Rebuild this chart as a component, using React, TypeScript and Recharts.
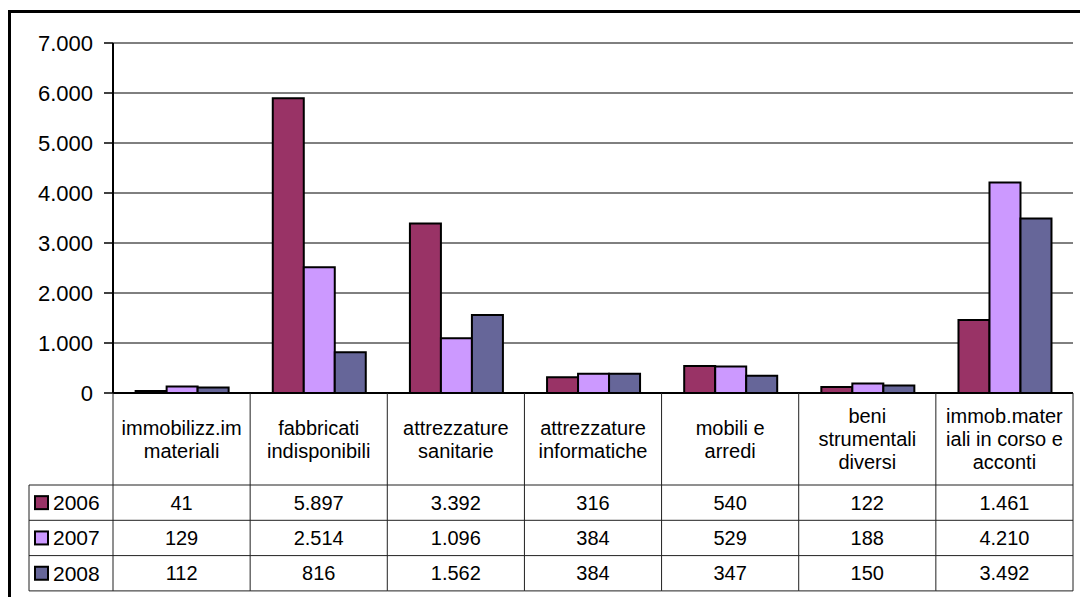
import React from 'react';
import { BarChart, Bar, XAxis, YAxis, CartesianGrid } from 'recharts';

const categories: string[] = [
  'immobilizz.im\nmateriali',
  'fabbricati\nindisponibili',
  'attrezzature\nsanitarie',
  'attrezzature\ninformatiche',
  'mobili e\narredi',
  'beni\nstrumentali\ndiversi',
  'immob.mater\niali in corso e\nacconti',
];
const seriesNames: string[] = ['2006', '2007', '2008'];
const values2006: number[] = [41, 5897, 3392, 316, 540, 122, 1461];
const values2007: number[] = [129, 2514, 1096, 384, 529, 188, 4210];
const values2008: number[] = [112, 816, 1562, 384, 347, 150, 3492];
const yTicks: number[] = [0, 1000, 2000, 3000, 4000, 5000, 6000, 7000];
const colors: string[] = ['#993366', '#CC99FF', '#666699'];

const seriesValues = [values2006, values2007, values2008];
const data = categories.map((c, i) => ({
  name: c,
  s2006: values2006[i],
  s2007: values2007[i],
  s2008: values2008[i],
}));

const fmt = (n: number) => String(n).replace(/\B(?=(\d{3})+(?!\d))/g, '.');

const FONT = '"Liberation Sans", Arial, sans-serif';
const HEADER_H = 92;
const ROW_H = 35.3;
const LINE_H = 23;
const TABLE_FS = 20;
const LEGEND_LEFT = 29;
const LINE_COLOR = '#202020';

const TableTick = (props: any) => {
  const { x, y, payload, index } = props;
  const idx: number = payload?.index ?? index;
  const half: number = payload?.offset ?? 68.57;
  const left = x - half;
  const right = x + half;
  const top = y;
  const headerBottom = top + HEADER_H;
  const bottom = headerBottom + ROW_H * 3;
  const lines = categories[idx].split('\n');
  const headerCenter = top + HEADER_H / 2;
  const firstLineY = headerCenter - ((lines.length - 1) * LINE_H) / 2;
  const isFirst = idx === 0;
  return (
    <g>
      {lines.map((ln, k) => (
        <text
          key={'h' + k}
          x={x}
          y={firstLineY + k * LINE_H}
          textAnchor="middle"
          dominantBaseline="central"
          fontSize={TABLE_FS}
          fontFamily={FONT}
          fill="#000"
        >
          {ln}
        </text>
      ))}
      {seriesValues.map((vals, s) => (
        <text
          key={'v' + s}
          x={x}
          y={headerBottom + ROW_H * s + ROW_H / 2}
          textAnchor="middle"
          dominantBaseline="central"
          fontSize={TABLE_FS}
          fontFamily={FONT}
          fill="#000"
        >
          {fmt(vals[idx])}
        </text>
      ))}
      {isFirst && <line x1={left} x2={left} y1={top} y2={bottom} stroke={LINE_COLOR} strokeWidth={1} />}
      <line x1={right} x2={right} y1={top} y2={bottom} stroke={LINE_COLOR} strokeWidth={1} />
      {[0, 1, 2, 3].map((r) => (
        <line
          key={'r' + r}
          x1={isFirst ? LEGEND_LEFT : left}
          x2={right}
          y1={headerBottom + ROW_H * r}
          y2={headerBottom + ROW_H * r}
          stroke={LINE_COLOR}
          strokeWidth={1}
        />
      ))}
      {isFirst && (
        <g>
          <line x1={LEGEND_LEFT} x2={LEGEND_LEFT} y1={headerBottom} y2={bottom} stroke={LINE_COLOR} strokeWidth={1} />
          {seriesNames.map((nm, s) => {
            const cy = headerBottom + ROW_H * s + ROW_H / 2;
            return (
              <g key={'l' + s}>
                <rect x={35} y={cy - 6.5} width={13} height={13} fill={colors[s]} stroke="#000" strokeWidth={2} />
                <text
                  x={53}
                  y={cy}
                  dominantBaseline="central"
                  fontSize={TABLE_FS + 1}
                  fontFamily={FONT}
                  fill="#000"
                >
                  {nm}
                </text>
              </g>
            );
          })}
        </g>
      )}
    </g>
  );
};

export default function App() {
  return (
    <div style={{ position: 'absolute', left: 0, top: 0, width: 1080, height: 597, overflow: 'hidden', background: '#fff', fontFamily: FONT }}>
      <div
        style={{
          position: 'absolute',
          left: 8,
          top: 10,
          width: 1200,
          height: 700,
          borderTop: '3px solid #000',
          borderLeft: '3px solid #000',
        }}
      />
      <div style={{ position: 'absolute', left: 0, top: 0 }}>
        <BarChart
          width={1080}
          height={597}
          data={data}
          margin={{ top: 43, right: 7, bottom: 0, left: 0 }}
          barGap={0}
          barCategoryGap="16.5%"
        >
          <CartesianGrid vertical={false} stroke="#000" strokeWidth={1} />
          <YAxis
            width={113}
            domain={[0, 7000]}
            ticks={yTicks}
            interval={0}
            tickFormatter={fmt}
            tick={{ fill: '#000', fontSize: 22, fontFamily: FONT }}
            tickSize={9}
            tickMargin={11}
            axisLine={{ stroke: '#000', strokeWidth: 2 }}
            tickLine={{ stroke: '#000', strokeWidth: 1.5 }}
          />
          <XAxis
            dataKey="name"
            height={204}
            interval={0}
            tickSize={0}
            tickMargin={0}
            tickLine={false}
            axisLine={{ stroke: '#000', strokeWidth: 2 }}
            tick={<TableTick />}
          />
          <Bar dataKey="s2006" name={seriesNames[0]} fill={colors[0]} stroke="#000" strokeWidth={2} isAnimationActive={false} />
          <Bar dataKey="s2007" name={seriesNames[1]} fill={colors[1]} stroke="#000" strokeWidth={2} isAnimationActive={false} />
          <Bar dataKey="s2008" name={seriesNames[2]} fill={colors[2]} stroke="#000" strokeWidth={2} isAnimationActive={false} />
        </BarChart>
      </div>
    </div>
  );
}
